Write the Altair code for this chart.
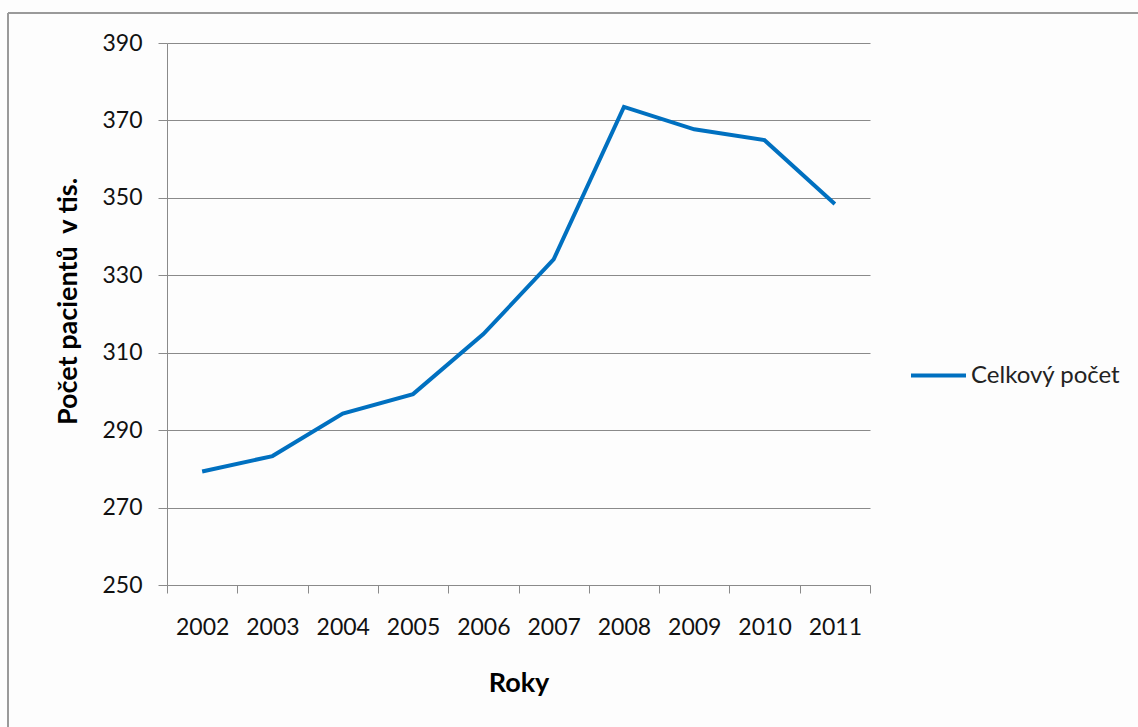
import altair as alt
import pandas as pd

years = ["2002", "2003", "2004", "2005", "2006", "2007", "2008", "2009", "2010", "2011"]
values = [279.3, 283.3, 294.3, 299.3, 314.8, 334.1, 373.5, 367.7, 364.9, 348.4]
series = ["Celkový počet"] * len(years)
y_ticks = [250, 270, 290, 310, 330, 350, 370, 390]

df = pd.DataFrame({"Rok": years, "Hodnota": values, "Řada": series})

FONT = "Lato"
GRAY = "#8a8a8a"
BLUE = "#0070C0"

line = alt.Chart(df).mark_line(strokeWidth=4, color=BLUE).encode(
    x=alt.X(
        "Rok:N",
        sort=years,
        bandPosition=0.5,
        scale=alt.Scale(type="band", paddingInner=0, paddingOuter=0),
        axis=alt.Axis(
            title="Roky",
            labelAngle=0,
            tickBand="extent",
            tickSize=8,
            tickColor=GRAY,
            domainColor=GRAY,
            grid=False,
            labelFontSize=23,
            labelFont=FONT,
            labelColor="#111111",
            labelPadding=23,
            titleFont=FONT,
            titleFontSize=27,
            titleFontWeight="bold",
            titleColor="#000000",
            titleY=98,
            titleBaseline="middle",
        ),
    ),
    y=alt.Y(
        "Hodnota:Q",
        scale=alt.Scale(domain=[250, 390], nice=False, zero=False),
        axis=alt.Axis(
            title="Počet pacientů\u00a0 v tis.",
            values=y_ticks,
            tickSize=9,
            tickColor=GRAY,
            domainColor=GRAY,
            gridColor=GRAY,
            labelFontSize=23,
            labelFont=FONT,
            labelColor="#111111",
            labelPadding=16,
            titleFont=FONT,
            titleFontSize=27,
            titleFontWeight="bold",
            titleColor="#000000",
            titleAngle=-90,
            titleX=-99,
            titleY=258,
            titleBaseline="middle",
            titleAlign="center",
        ),
    ),
    color=alt.Color(
        "Řada:N",
        scale=alt.Scale(range=[BLUE]),
        legend=alt.Legend(
            title=None,
            orient="none",
            legendX=742,
            legendY=303,
            symbolType="stroke",
            symbolStrokeWidth=4,
            symbolSize=3025,
            labelFont=FONT,
            labelFontSize=24,
            labelColor="#222222",
            labelOffset=3,
            padding=0,
        ),
    ),
)

border_left = alt.Chart(df).mark_rule(color="#9a9a9a", strokeWidth=2).encode(
    x=alt.value(-159), y=alt.value(-30), y2=alt.value(720)
)
border_top = alt.Chart(df).mark_rule(color="#9a9a9a", strokeWidth=2).encode(
    x=alt.value(-159), x2=alt.value(1000), y=alt.value(-30)
)

chart = alt.layer(border_left, border_top, line).properties(
    width=703,
    height=542,
    autosize=alt.AutoSizeParams(type="none"),
    padding={"left": 167, "top": 43, "right": 268, "bottom": 142},
    background="#fdfdfd",
).configure_view(stroke=None)

chart.save("out.html", embed_options={"renderer": "svg", "actions": False})
